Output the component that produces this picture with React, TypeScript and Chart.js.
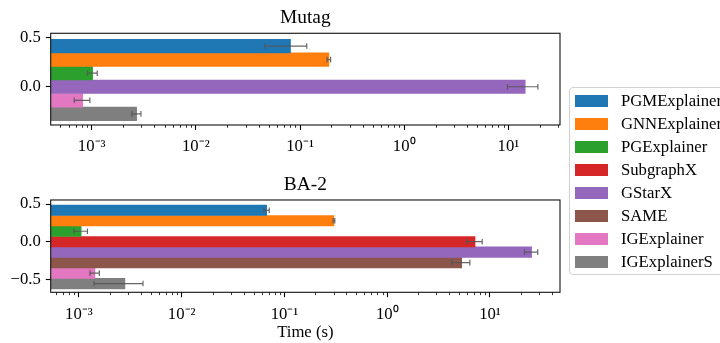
import React, { useEffect, useRef } from 'react';
import { Chart, registerables } from 'chart.js';

Chart.register(...registerables);

// ---------- data ----------
const METHODS = ['PGMExplainer', 'GNNExplainer', 'PGExplainer', 'SubgraphX', 'GStarX', 'SAME', 'IGExplainer', 'IGExplainerS'];

const MUTAG_METHODS = ['PGMExplainer', 'GNNExplainer', 'PGExplainer', 'GStarX', 'IGExplainer', 'IGExplainerS'];
const MUTAG_POSITIONS = [0.417, 0.278, 0.139, 0, -0.139, -0.278];
const MUTAG_TIMES = [0.081, 0.189, 0.00102, 14.5, 0.00082, 0.0027];
const MUTAG_STD = [0.035, 0.0075, 0.00011, 4.7, 0.00014, 0.00027];

const BA2_METHODS = ['PGMExplainer', 'GNNExplainer', 'PGExplainer', 'SubgraphX', 'GStarX', 'SAME', 'IGExplainer', 'IGExplainerS'];
const BA2_POSITIONS = [0.417, 0.278, 0.139, 0, -0.139, -0.278, -0.417, -0.556];
const BA2_TIMES = [0.0671, 0.303, 0.00105, 7.15, 25.4, 5.3, 0.00143, 0.0028];
const BA2_STD = [0.004, 0.006, 0.00016, 1.25, 3.75, 1.07, 0.00015, 0.0014];

const X_MAJOR_TICKS = [1e-4, 1e-3, 1e-2, 1e-1, 1, 10, 100];
const X_MAJOR_LABELS = ['10⁻⁴', '10⁻³', '10⁻²', '10⁻¹', '10⁰', '10¹', '10²'];
const Y_TICKS = [-0.5, 0, 0.5];
const Y_TICK_LABELS = ['−0.5', '0.0', '0.5'];

// ---------- styles ----------
const COLORS: Record<string, string> = {
  PGMExplainer: '#1f77b4',
  GNNExplainer: '#ff7f0e',
  PGExplainer: '#2ca02c',
  SubgraphX: '#d62728',
  GStarX: '#9467bd',
  SAME: '#8c564b',
  IGExplainer: '#e377c2',
  IGExplainerS: '#7f7f7f',
};
const FONT = '"Liberation Serif", "Times New Roman", serif';

const near = (a: number, b: number) => Math.abs(a - b) <= Math.abs(b) * 1e-9 + 1e-12;
const majorIndex = (v: number) => X_MAJOR_TICKS.findIndex((t) => near(v, t));

const errorBarPlugin = {
  id: 'errorBars',
  afterDatasetsDraw(chart: any) {
    const ctx = chart.ctx;
    const xs = chart.scales.x;
    const ys = chart.scales.y;
    ctx.save();
    ctx.strokeStyle = 'rgba(85,85,85,0.9)';
    ctx.lineWidth = 1.2;
    chart.data.datasets.forEach((ds: any) => {
      ds.data.forEach((pt: any, i: number) => {
        const e = ds.errors[i];
        const lo = Math.max(pt.x - e, xs.min);
        const x0 = xs.getPixelForValue(lo);
        const x1 = xs.getPixelForValue(pt.x + e);
        const y = ys.getPixelForValue(pt.y);
        const cap = 2.8;
        ctx.beginPath();
        ctx.moveTo(x0, y);
        ctx.lineTo(x1, y);
        ctx.moveTo(x0, y - cap);
        ctx.lineTo(x0, y + cap);
        ctx.moveTo(x1, y - cap);
        ctx.lineTo(x1, y + cap);
        ctx.stroke();
      });
    });
    ctx.restore();
  },
};

const frameAndMinorPlugin = {
  id: 'frameAndMinor',
  afterDraw(chart: any) {
    const ctx = chart.ctx;
    const a = chart.chartArea;
    const xs = chart.scales.x;
    ctx.save();
    ctx.strokeStyle = '#000';
    ctx.lineWidth = 0.8;
    ctx.beginPath();
    xs.ticks.forEach((t: any) => {
      if (majorIndex(t.value) < 0) {
        const px = Math.round(xs.getPixelForValue(t.value)) + 0.5;
        ctx.moveTo(px, a.bottom);
        ctx.lineTo(px, a.bottom + 2.8);
      }
    });
    ctx.stroke();
    ctx.strokeStyle = '#111';
    ctx.lineWidth = 1.1;
    ctx.strokeRect(a.left, a.top, a.right - a.left, a.bottom - a.top);
    ctx.restore();
  },
};

function buildLogTicks(min: number, max: number) {
  const ticks: { value: number }[] = [];
  const kMin = Math.floor(Math.log10(min));
  const kMax = Math.ceil(Math.log10(max));
  for (let k = kMin; k <= kMax; k++) {
    for (let m = 1; m <= 9; m++) {
      const v = Number((m * Math.pow(10, k)).toPrecision(12));
      if (v >= min && v <= max) ticks.push({ value: v });
    }
  }
  return ticks;
}

interface PanelProps {
  title: string;
  methods: string[];
  positions: number[];
  times: number[];
  stds: number[];
  yMin: number;
  yMax: number;
  xMin: number;
  xMax: number;
  titlePadTop: number;
  titlePadBottom: number;
  xAxisHeight: number;
  xTitle?: string;
}

function buildConfig(p: PanelProps): any {
  return {
    type: 'bar',
    data: {
      datasets: p.methods.map((m, i) => ({
        label: m,
        data: [{ x: p.times[i], y: p.positions[i] }],
        errors: [p.stds[i]],
        backgroundColor: COLORS[m],
        borderWidth: 0,
        grouped: false,
        categoryPercentage: 1,
        barPercentage: 1,
      })),
    },
    options: {
      indexAxis: 'y',
      animation: false,
      responsive: false,
      events: [],
      layout: { padding: { left: 0, right: 10, top: 0, bottom: 0 } },
      plugins: {
        legend: { display: false },
        tooltip: { enabled: false },
        title: {
          display: true,
          text: p.title,
          fullSize: false,
          color: '#000',
          font: { family: FONT, size: 19.4, weight: 'normal', lineHeight: 1.2 },
          padding: { top: p.titlePadTop, bottom: p.titlePadBottom },
        },
      },
      scales: {
        x: {
          type: 'logarithmic',
          min: p.xMin,
          max: p.xMax,
          offset: false,
          afterBuildTicks: (s: any) => {
            s.ticks = buildLogTicks(s.min, s.max);
          },
          afterFit: (s: any) => {
            s.height = p.xAxisHeight;
          },
          ticks: {
            autoSkip: false,
            maxRotation: 0,
            minRotation: 0,
            padding: 7,
            color: '#000',
            font: { family: FONT, size: 16.7, lineHeight: 1.2 },
            callback: (v: any) => {
              const idx = majorIndex(Number(v));
              return idx >= 0 ? X_MAJOR_LABELS[idx] : '';
            },
          },
          grid: {
            display: true,
            offset: false,
            drawOnChartArea: false,
            drawTicks: true,
            tickLength: 4.9,
            tickWidth: 1.1,
            tickColor: (c: any) => (c.tick && majorIndex(c.tick.value) >= 0 ? '#000' : 'rgba(0,0,0,0)'),
          },
          border: { display: false },
          title: p.xTitle
            ? {
                display: true,
                text: p.xTitle,
                color: '#000',
                font: { family: FONT, size: 16.7, lineHeight: 1.2 },
                padding: { top: 0, bottom: 0 },
              }
            : { display: false },
        },
        y: {
          type: 'linear',
          min: p.yMin,
          max: p.yMax,
          offset: false,
          afterBuildTicks: (s: any) => {
            s.ticks = Y_TICKS.filter((v) => v >= s.min && v <= s.max).map((v) => ({ value: v }));
          },
          afterFit: (s: any) => {
            s.width = 50.7;
          },
          ticks: {
            padding: 5,
            color: '#000',
            font: { family: FONT, size: 16.7, lineHeight: 1.2 },
            callback: (v: any) => {
              const idx = Y_TICKS.findIndex((t) => Math.abs(t - Number(v)) < 1e-9);
              return idx >= 0 ? Y_TICK_LABELS[idx] : '';
            },
          },
          grid: {
            display: true,
            offset: false,
            drawOnChartArea: false,
            drawTicks: true,
            tickLength: 4.9,
            tickWidth: 1.1,
            tickColor: '#000',
          },
          border: { display: false },
        },
      },
    },
    plugins: [errorBarPlugin, frameAndMinorPlugin],
  };
}

function Panel({ props, top, height }: { props: PanelProps; top: number; height: number }) {
  const ref = useRef<HTMLCanvasElement>(null);
  useEffect(() => {
    const chart = new Chart(ref.current as HTMLCanvasElement, buildConfig(props));
    return () => chart.destroy();
  }, []);
  return (
    <canvas
      ref={ref}
      width={570}
      height={height}
      style={{ position: 'absolute', left: 0, top, width: 570, height }}
    />
  );
}

export default function App() {
  const mutag: PanelProps = {
    title: 'Mutag',
    methods: MUTAG_METHODS,
    positions: MUTAG_POSITIONS,
    times: MUTAG_TIMES,
    stds: MUTAG_STD,
    yMin: -0.392,
    yMax: 0.548,
    xMin: 4.04e-4,
    xMax: 31.3,
    titlePadTop: 6.7,
    titlePadBottom: 3.3,
    xAxisHeight: 35,
  };
  const ba2: PanelProps = {
    title: 'BA-2',
    methods: BA2_METHODS,
    positions: BA2_POSITIONS,
    times: BA2_TIMES,
    stds: BA2_STD,
    yMin: -0.672,
    yMax: 0.554,
    xMin: 5.31e-4,
    xMax: 48.0,
    titlePadTop: 13.35,
    titlePadBottom: 3.35,
    xAxisHeight: 50.7,
    xTitle: 'Time (s)',
  };
  return (
    <div
      style={{
        position: 'absolute',
        left: 0,
        top: 0,
        width: 720,
        height: 343,
        overflow: 'hidden',
        background: '#fff',
      }}
    >
      <Panel props={mutag} top={0} height={160} />
      <Panel props={ba2} top={160} height={183} />
      <div
        style={{
          position: 'absolute',
          left: 569,
          top: 86.7,
          width: 170,
          height: 188.3,
          border: '1px solid #d0d0d0',
          borderRadius: 4,
          background: 'rgba(255,255,255,0.8)',
          boxSizing: 'border-box',
        }}
      >
        {METHODS.map((m, i) => (
          <div
            key={m}
            style={{
              position: 'absolute',
              left: 0,
              top: 1.5 + 23 * i,
              height: 23,
              display: 'flex',
              alignItems: 'center',
            }}
          >
            <span style={{ display: 'inline-block', marginLeft: 5, width: 33, height: 11.7, background: COLORS[m] }} />
            <span
              style={{
                marginLeft: 13,
                fontFamily: FONT,
                fontSize: 16.7,
                lineHeight: '23px',
                color: '#000',
                whiteSpace: 'nowrap',
              }}
            >
              {m}
            </span>
          </div>
        ))}
      </div>
    </div>
  );
}
